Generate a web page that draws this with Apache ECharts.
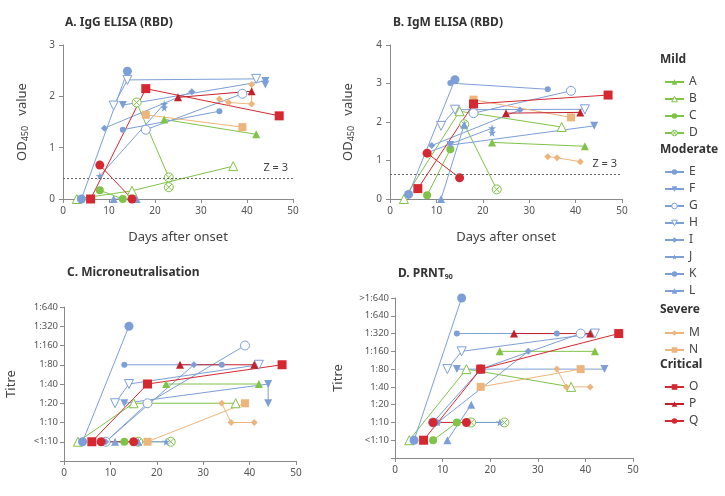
<!DOCTYPE html>
<html>
<head>
<meta charset="utf-8">
<script src="https://cdn.jsdelivr.net/npm/echarts@6/dist/echarts.min.js"></script>
<style>
  html, body { margin: 0; padding: 0; background: #fff; }
  #main { width: 725px; height: 496px; }
</style>
</head>
<body>
<div id="main"></div>
<script>
// patients and severity groups
var mild = ['A', 'B', 'C', 'D'];
var moderate = ['E', 'F', 'G', 'H', 'I', 'J', 'K', 'L'];
var severe = ['M', 'N'];
var critical = ['O', 'P', 'Q'];

// titre tick labels
var mnLabels = ['<1:10', '1:10', '1:20', '1:40', '1:80', '1:160', '1:320', '1:640'];
var prntLabels = ['<1:10', '1:10', '1:20', '1:40', '1:80', '1:160', '1:320', '1:640', '>1:640'];

// Z = 3 cut-offs (OD450)
var iggCutoff = 0.4;
var igmCutoff = 0.65;

// A. IgG ELISA, [day, OD450]
var igg = {
  A: [[22, 1.55], [42, 1.26]],
  B: [[3, 0], [15, 0.16], [37, 0.64]],
  C: [[8, 0.17], [13, 0]],
  D: [[16, 1.88], [23, 0.42], [23, 0.23]],
  E: [[4, 0], [14, 2.49]],
  F: [[13, 1.83], [44, 2.30], [44, 2.23]],
  G: [[18, 1.35], [39, 2.05]],
  H: [[11, 1.82], [14, 2.32], [42, 2.34]],
  I: [[9, 1.38], [28, 2.09]],
  J: [[8, 0.45], [22, 1.85], [22, 1.78]],
  K: [[13, 1.35], [34, 1.71]],
  L: [[11, 0], [16, 0]],
  M: [[34, 1.95], [36, 1.88], [41, 1.85], [41, 2.23]],
  N: [[18, 1.64], [39, 1.40]],
  O: [[6, 0], [18, 2.15], [47, 1.62]],
  P: [[25, 1.98], [41, 2.10]],
  Q: [[8, 0.66], [15, 0]]
};

// B. IgM ELISA, [day, OD450]
var igm = {
  A: [[22, 1.47], [42, 1.37]],
  B: [[3, 0], [15, 2.28], [37, 1.87]],
  C: [[8, 0.1], [13, 1.29]],
  D: [[16, 1.94], [23, 0.25]],
  E: [[4, 0.12], [14, 3.1]],
  F: [[13, 1.40], [44, 1.90]],
  G: [[18, 2.23], [39, 2.81]],
  H: [[11, 1.9], [14, 2.32], [42, 2.33]],
  I: [[9, 1.39], [28, 2.31]],
  J: [[8, 1.2], [22, 1.84], [22, 1.72]],
  K: [[13, 3.01], [34, 2.85]],
  L: [[11, 0], [16, 1.93]],
  M: [[34, 1.10], [36, 1.07], [41, 0.97]],
  N: [[18, 2.58], [39, 2.12]],
  O: [[6, 0.27], [18, 2.47], [47, 2.70]],
  P: [[25, 2.23], [41, 2.25]],
  Q: [[8, 1.19], [15, 0.55]]
};

// C. Microneutralisation, [day, titre]
var mn = {
  A: [[22, '1:40'], [42, '1:40']],
  B: [[3, '<1:10'], [15, '1:20'], [37, '1:20']],
  C: [[8, '<1:10'], [13, '<1:10']],
  D: [[16, '<1:10'], [23, '<1:10']],
  E: [[4, '<1:10'], [14, '1:320']],
  F: [[13, '1:20'], [44, '1:40'], [44, '1:20']],
  G: [[9, '<1:10'], [18, '1:20'], [39, '1:160']],
  H: [[11, '1:20'], [14, '1:40'], [42, '1:80']],
  I: [[9, '<1:10'], [28, '1:80']],
  J: [[8, '<1:10'], [22, '<1:10']],
  K: [[13, '1:80'], [34, '1:80']],
  L: [[11, '<1:10'], [16, '<1:10']],
  M: [[34, '1:20'], [36, '1:10'], [41, '1:10']],
  N: [[18, '<1:10'], [39, '1:20']],
  O: [[6, '<1:10'], [18, '1:40'], [47, '1:80']],
  P: [[25, '1:80'], [41, '1:80']],
  Q: [[8, '<1:10'], [15, '<1:10']]
};

// D. PRNT90, [day, titre]
var prnt = {
  A: [[22, '1:160'], [42, '1:160']],
  B: [[3, '<1:10'], [15, '1:80'], [37, '1:40']],
  C: [[8, '<1:10'], [13, '1:10']],
  D: [[16, '1:10'], [23, '1:10']],
  E: [[4, '<1:10'], [14, '>1:640']],
  F: [[13, '1:80'], [44, '1:80']],
  G: [[8, '1:10'], [18, '1:80'], [39, '1:320']],
  H: [[11, '1:80'], [14, '1:160'], [42, '1:320']],
  I: [[9, '1:10'], [28, '1:160']],
  J: [[9, '1:10'], [22, '1:10']],
  K: [[13, '1:320'], [34, '1:320']],
  L: [[11, '<1:10'], [16, '1:20']],
  M: [[34, '1:80'], [36, '1:40'], [41, '1:40']],
  N: [[18, '1:40'], [39, '1:80']],
  O: [[6, '<1:10'], [18, '1:80'], [47, '1:320']],
  P: [[25, '1:320'], [41, '1:320']],
  Q: [[8, '1:10'], [15, '1:10']]
};

var GREEN = '#7fc347', BLUE = '#7c9fd8', TAN = '#edb57b', RED = '#d62830', DRED = '#c4202b';
var starPath = 'path://M50,0 L61,35 L98,35 L68,57 L79,91 L50,70 L21,91 L32,57 L2,35 L39,35 Z';
var crossCircle = 'path://M20,10 A10,10 0 1,1 0,10 A10,10 0 1,1 20,10 Z M3,3 L17,17 M17,3 L3,17';

// marker look per patient
var look = {
  A: { c: GREEN, s: 'triangle', z: 8 },
  B: { c: GREEN, s: 'triangle', z: 9, hollow: true },
  C: { c: GREEN, s: 'circle', z: 8 },
  D: { c: GREEN, s: crossCircle, z: 9, hollow: true },
  E: { c: BLUE, s: 'circle', z: 9 },
  F: { c: BLUE, s: 'triangle', z: 8, rot: 180 },
  G: { c: BLUE, s: 'circle', z: 9, hollow: true },
  H: { c: BLUE, s: 'triangle', z: 9, rot: 180, hollow: true },
  I: { c: BLUE, s: 'diamond', z: 7 },
  J: { c: BLUE, s: starPath, z: 8 },
  K: { c: BLUE, s: 'circle', z: 6 },
  L: { c: BLUE, s: 'triangle', z: 8 },
  M: { c: TAN, s: 'diamond', z: 7 },
  N: { c: TAN, s: 'rect', z: 8 },
  O: { c: RED, s: 'rect', z: 9 },
  P: { c: DRED, s: 'triangle', z: 8 },
  Q: { c: RED, s: 'circle', z: 9 }
};

var patients = mild.concat(moderate, severe, critical);
var FONT = 'Noto Sans';
var axisCol = '#8a8a8a';

function markStyle(lk) {
  return lk.hollow
    ? { color: '#fff', borderColor: lk.c, borderWidth: 1 }
    : { color: lk.c, borderWidth: 0 };
}

function xAx(i) {
  return {
    gridIndex: i, type: 'value', min: 0, max: 50, interval: 10,
    axisLine: { onZero: false, lineStyle: { color: axisCol } },
    axisTick: { length: 4, lineStyle: { color: axisCol } },
    splitLine: { show: false },
    axisLabel: { color: '#555', fontSize: 10, fontFamily: FONT, margin: 7 },
    name: i < 2 ? 'Days after onset' : '',
    nameLocation: 'middle', nameGap: 32,
    nameTextStyle: { color: '#444', fontSize: 13, fontFamily: FONT }
  };
}

var odName = {
  name: '{a|OD}{s|450}{a|   value}',
  nameTextStyle: {
    rich: {
      a: { fontSize: 13, color: '#444', fontFamily: FONT },
      s: { fontSize: 9, color: '#444', fontFamily: FONT, padding: [7, 0, 0, 0] }
    }
  }
};

function yOD(i, max, gap) {
  return Object.assign({
    gridIndex: i, type: 'value', min: 0, max: max, interval: 1,
    axisLine: { show: true, lineStyle: { color: axisCol } },
    axisTick: { show: true, length: 4, lineStyle: { color: axisCol } },
    splitLine: { show: false },
    axisLabel: { color: '#555', fontSize: 10, fontFamily: FONT, margin: 8 },
    nameLocation: 'middle', nameRotate: 90, nameGap: gap
  }, odName);
}

function yTitre(i, labels, gap) {
  return {
    gridIndex: i, type: 'value', min: -1, max: labels.length - 1, interval: 1,
    axisLine: { show: true, lineStyle: { color: axisCol } },
    axisTick: { show: true, length: 4, lineStyle: { color: axisCol } },
    splitLine: { show: false },
    axisLabel: {
      color: '#555', fontSize: 9.5, fontFamily: FONT, margin: 6,
      formatter: function (v) { return labels[v] || ''; }
    },
    name: 'Titre', nameLocation: 'middle', nameRotate: 90, nameGap: gap,
    nameTextStyle: { color: '#444', fontSize: 13, fontFamily: FONT }
  };
}

var series = [];
function addPanel(table, idx, labels, cutoff) {
  patients.forEach(function (p, k) {
    var lk = look[p];
    var data = table[p].map(function (d) {
      return [d[0], labels ? labels.indexOf(d[1]) : d[1]];
    });
    var s = {
      name: p, type: 'line', xAxisIndex: idx, yAxisIndex: idx,
      data: data, symbol: lk.s, symbolSize: lk.z, symbolRotate: lk.rot || 0,
      showAllSymbol: true, animation: false,
      lineStyle: { color: lk.c, width: 1 },
      itemStyle: markStyle(lk),
      emphasis: { disabled: true }
    };
    if (cutoff !== undefined && k === 0) {
      s.markLine = {
        silent: true, symbol: ['none', 'none'],
        lineStyle: { type: [2, 2], color: '#666', width: 1 },
        label: { formatter: 'Z = 3', position: 'insideEndTop', color: '#444', fontSize: 11, fontFamily: FONT },
        data: [{ yAxis: cutoff }]
      };
    }
    series.push(s);
  });
}
addPanel(igg, 0, null, iggCutoff);
addPanel(igm, 1, null, igmCutoff);
addPanel(mn, 2, mnLabels);
addPanel(prnt, 3, prntLabels);

function legendGroup(list, top) {
  return {
    data: list.map(function (p) { return { name: p, itemStyle: markStyle(look[p]) }; }),
    orient: 'vertical', left: 659, top: top,
    itemWidth: 19, itemHeight: 7, itemGap: 5,
    selectedMode: false,
    textStyle: { color: '#444', fontSize: 12, fontFamily: FONT, lineHeight: 12 }
  };
}

function header(txt, y) {
  return { type: 'text', left: 660, top: y, style: { text: txt, fill: '#333', font: 'bold 12px "Noto Sans"' } };
}

var titleStyle = { color: '#333', fontSize: 12, fontWeight: 'bold', fontFamily: FONT };

var option = {
  backgroundColor: '#fff',
  textStyle: { fontFamily: FONT },
  title: [
    { text: 'A. IgG ELISA (RBD)', left: 60, top: 12, textStyle: titleStyle },
    { text: 'B. IgM ELISA (RBD)', left: 388, top: 12, textStyle: titleStyle },
    { text: 'C. Microneutralisation', left: 62, top: 262, textStyle: titleStyle },
    {
      text: '{t|D. PRNT}{s|90}', left: 393, top: 262,
      textStyle: { rich: { t: titleStyle, s: { color: '#333', fontSize: 7, fontWeight: 'bold', fontFamily: FONT, padding: [6, 0, 0, 0] } } }
    }
  ],
  grid: [
    { left: 63, top: 45, width: 230, height: 154 },
    { left: 390, top: 45, width: 232, height: 154 },
    { left: 64, top: 307, width: 232, height: 154 },
    { left: 395, top: 298, width: 238, height: 160 }
  ],
  xAxis: [xAx(0), xAx(1), xAx(2), xAx(3)],
  yAxis: [yOD(0, 3, 33), yOD(1, 4, 34), yTitre(2, mnLabels, 46), yTitre(3, prntLabels, 50)],
  legend: [
    legendGroup(mild, 71),
    legendGroup(moderate, 161),
    legendGroup(severe, 322),
    legendGroup(critical, 376)
  ],
  graphic: [
    header('Mild', 54),
    header('Moderate', 144),
    header('Severe', 304),
    header('Critical', 359)
  ],
  series: series
};

var chart = echarts.init(document.getElementById('main'), null, { renderer: 'canvas' });
chart.setOption(option);
</script>
</body>
</html>
